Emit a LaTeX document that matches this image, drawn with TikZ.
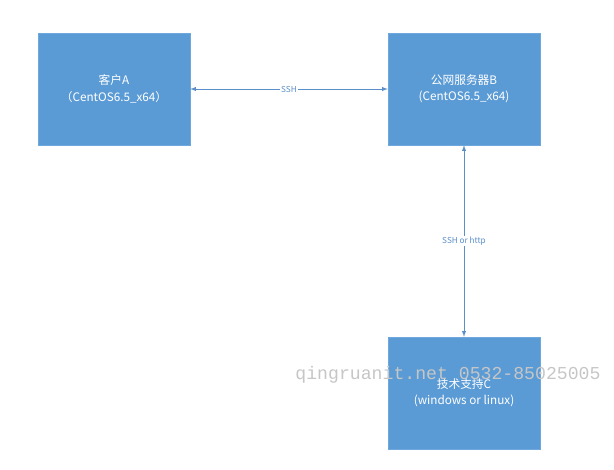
\documentclass[tikz,border=0pt]{standalone}
\usepackage{fontspec}
\setmainfont{Noto Sans CJK SC}
\newfontfamily\wmfont{Liberation Mono}
\definecolor{boxblue}{HTML}{5B9BD5}
\definecolor{boxedge}{HTML}{6FA8DC}
\definecolor{linkblue}{HTML}{5B8FCB}
\begin{document}
\begin{tikzpicture}[x=0.03cm, y=-0.03cm,
    hostbox/.style={draw=boxedge, fill=boxblue, text=white, minimum width=4.56cm, minimum height=3.36cm, align=center, font=\fontsize{10}{14}\selectfont, inner sep=0pt},
    link/.style={linkblue, line width=0.7pt, <->, >=latex},
    linklabel/.style={fill=white, text=linkblue, font=\fontsize{7}{8}\selectfont, inner sep=1pt}]
    \useasboundingbox (0,0) rectangle (614,469);
    % Hosts
    \node[hostbox] (clientA) at (114,89) {客户A\\（CentOS6.5\_x64）};
    \node[hostbox] (serverB) at (464,89) {公网服务器B\\(CentOS6.5\_x64)};
    \node[hostbox] (supportC) at (464,393) {技术支持C\\(windows or linux)};
    % Links
    \draw[link] (clientA) -- node[linklabel] {SSH} (serverB);
    \draw[link] (serverB) -- node[linklabel] {SSH or http} (supportC);
    % Watermark
    \node[text=gray!45, font=\wmfont\fontsize{15.5}{16}\selectfont] (mark) at (448,375) {qingruanit.net 0532-85025005};
\end{tikzpicture}
\end{document}
